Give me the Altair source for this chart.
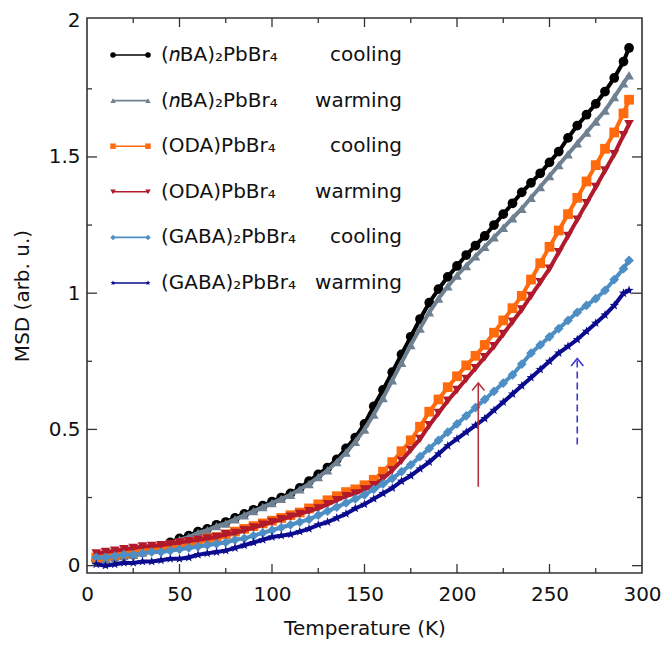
import altair as alt
import pandas as pd

FONT = "DejaVu Sans"

# Temperature grid (K)
T = [5, 10, 15, 20, 25, 30, 35, 40, 45, 50,
     55, 60, 65, 70, 75, 80, 85, 90, 95, 100,
     105, 110, 115, 120, 125, 130, 135, 140, 145, 150,
     155, 160, 165, 170, 175, 180, 185, 190, 195, 200,
     205, 210, 215, 220, 225, 230, 235, 240, 245, 250,
     255, 260, 265, 270, 275, 280, 285, 290, 293]

nba_cool = [0.02, 0.025, 0.03, 0.035, 0.04, 0.05, 0.06, 0.07, 0.085, 0.10,
            0.11, 0.125, 0.135, 0.15, 0.16, 0.175, 0.19, 0.205, 0.22, 0.235,
            0.25, 0.265, 0.285, 0.31, 0.335, 0.36, 0.39, 0.43, 0.47, 0.52,
            0.585, 0.645, 0.71, 0.775, 0.84, 0.905, 0.965, 1.015, 1.06, 1.10,
            1.14, 1.175, 1.21, 1.25, 1.29, 1.33, 1.37, 1.405, 1.44, 1.48,
            1.52, 1.57, 1.615, 1.655, 1.695, 1.74, 1.79, 1.85, 1.90]

nba_warm = [0.02, 0.025, 0.03, 0.035, 0.04, 0.048, 0.058, 0.068, 0.08, 0.095,
            0.105, 0.12, 0.13, 0.145, 0.155, 0.17, 0.185, 0.20, 0.215, 0.23,
            0.245, 0.26, 0.28, 0.30, 0.325, 0.35, 0.38, 0.415, 0.455, 0.50,
            0.555, 0.615, 0.68, 0.745, 0.81, 0.87, 0.93, 0.98, 1.025, 1.065,
            1.10, 1.135, 1.17, 1.205, 1.24, 1.275, 1.31, 1.35, 1.39, 1.43,
            1.47, 1.51, 1.55, 1.59, 1.63, 1.67, 1.72, 1.77, 1.80]

oda_cool = [0.03, 0.035, 0.04, 0.045, 0.05, 0.055, 0.06, 0.065, 0.07, 0.08,
            0.085, 0.09, 0.10, 0.105, 0.115, 0.125, 0.135, 0.145, 0.155, 0.165,
            0.175, 0.185, 0.195, 0.21, 0.225, 0.24, 0.255, 0.27, 0.28, 0.295,
            0.315, 0.345, 0.38, 0.42, 0.46, 0.51, 0.565, 0.61, 0.655, 0.695,
            0.735, 0.77, 0.81, 0.855, 0.90, 0.945, 0.99, 1.05, 1.11, 1.17,
            1.23, 1.29, 1.35, 1.41, 1.47, 1.53, 1.59, 1.66, 1.71]

oda_warm = [0.045, 0.05, 0.055, 0.06, 0.065, 0.07, 0.072, 0.075, 0.08, 0.085,
            0.09, 0.095, 0.10, 0.105, 0.115, 0.12, 0.13, 0.14, 0.15, 0.16,
            0.17, 0.18, 0.19, 0.20, 0.21, 0.225, 0.24, 0.255, 0.265, 0.28,
            0.295, 0.32, 0.35, 0.385, 0.425, 0.465, 0.515, 0.56, 0.605, 0.645,
            0.685, 0.725, 0.765, 0.805, 0.85, 0.895, 0.94, 0.99, 1.04, 1.09,
            1.15, 1.21, 1.27, 1.33, 1.39, 1.45, 1.51, 1.58, 1.62]

gaba_cool = [0.03, 0.03, 0.035, 0.04, 0.04, 0.045, 0.05, 0.05, 0.055, 0.06,
             0.065, 0.07, 0.075, 0.08, 0.085, 0.095, 0.10, 0.11, 0.12, 0.13,
             0.14, 0.15, 0.16, 0.17, 0.185, 0.20, 0.215, 0.23, 0.245, 0.26,
             0.28, 0.30, 0.32, 0.345, 0.37, 0.40, 0.43, 0.46, 0.49, 0.52,
             0.55, 0.58, 0.61, 0.64, 0.67, 0.70, 0.74, 0.78, 0.81, 0.84,
             0.87, 0.90, 0.93, 0.955, 0.98, 1.01, 1.05, 1.09, 1.12]

gaba_warm = [0.005, 0.0, 0.005, 0.01, 0.01, 0.015, 0.015, 0.02, 0.025, 0.025,
             0.03, 0.04, 0.045, 0.05, 0.055, 0.065, 0.075, 0.085, 0.095, 0.105,
             0.11, 0.115, 0.125, 0.135, 0.15, 0.16, 0.175, 0.19, 0.21, 0.225,
             0.245, 0.265, 0.285, 0.31, 0.33, 0.355, 0.38, 0.41, 0.44, 0.465,
             0.49, 0.515, 0.54, 0.57, 0.60, 0.63, 0.66, 0.69, 0.72, 0.75,
             0.78, 0.805, 0.83, 0.86, 0.89, 0.92, 0.955, 1.00, 1.01]

series_values = [nba_cool, nba_warm, oda_cool, oda_warm, gaba_cool, gaba_warm]
compounds = ["(\U0001D45BBA)\u2082PbBr\u2084", "(\U0001D45BBA)\u2082PbBr\u2084",
             "(ODA)PbBr\u2084", "(ODA)PbBr\u2084",
             "(GABA)\u2082PbBr\u2084", "(GABA)\u2082PbBr\u2084"]
status = ["cooling", "warming", "cooling", "warming", "cooling", "warming"]
keys = ["s0", "s1", "s2", "s3", "s4", "s5"]
colors = ["#000000", "#6f8191", "#ff6a0d", "#b11a2c", "#4d8ec4", "#0b0b8f"]
STAR = ("M0,-1L0.24,-0.33L0.95,-0.31L0.38,0.12L0.59,0.81L0,0.4"
        "L-0.59,0.81L-0.38,0.12L-0.95,-0.31L-0.24,-0.33Z")
shapes = ["circle", "triangle-up", "square", "triangle-down", "diamond", STAR]

# axis ticks
x_major = [50, 100, 150, 200, 250]
x_minor = [25, 75, 125, 175, 225, 275]
y_major = [0, 0.5, 1, 1.5]
y_minor = [0.25, 0.75, 1.25, 1.75]
x_labels = [0, 50, 100, 150, 200, 250, 300]
y_labels = [0, 0.5, 1, 1.5, 2]

# annotation arrows
arrow_T = [211.5, 265]
arrow_lo = [0.29, 0.445]
arrow_hi = [0.67, 0.76]
arrow_col = ["#b5323e", "#3b3bd0"]

W, H = 555, 555
xs = alt.Scale(domain=[0, 300], nice=False, zero=False, padding=0)
ys = alt.Scale(domain=[-0.027, 2.01], nice=False, zero=False, padding=0)
xaxis = alt.Axis(values=x_labels, title="Temperature (K)", labelPadding=11,
                 titlePadding=14, format="d", labelFlush=False)
yaxis = alt.Axis(values=y_labels, title="MSD (arb. u.)", format="~g",
                 labelPadding=7, titlePadding=16, labelFlush=False)

layers = []
for vals, c, s in zip(series_values, colors, shapes):
    df = pd.DataFrame({"T": T, "MSD": vals})
    base = alt.Chart(df).encode(
        x=alt.X("T:Q", scale=xs, axis=xaxis),
        y=alt.Y("MSD:Q", scale=ys, axis=yaxis),
    )
    layers.append(base.mark_line(color=c, strokeWidth=4))
    layers.append(base.mark_point(shape=s, filled=True, size=95, color=c, opacity=1))

TICK_C = "#333333"
xmaj = pd.DataFrame({"v": x_major})
xmin = pd.DataFrame({"v": x_minor})
ymaj = pd.DataFrame({"v": y_major})
ymin = pd.DataFrame({"v": y_minor})
for d, L in [(xmaj, 9), (xmin, 5)]:
    layers.append(alt.Chart(d).mark_rule(color=TICK_C, strokeWidth=1.3).encode(
        x=alt.X("v:Q", scale=xs), y=alt.value(H), y2=alt.value(H - L)))
    layers.append(alt.Chart(d).mark_rule(color=TICK_C, strokeWidth=1.3).encode(
        x=alt.X("v:Q", scale=xs), y=alt.value(0), y2=alt.value(L)))
for d, L in [(ymaj, 10), (ymin, 5)]:
    layers.append(alt.Chart(d).mark_rule(color=TICK_C, strokeWidth=1.3).encode(
        y=alt.Y("v:Q", scale=ys), x=alt.value(0), x2=alt.value(L)))
    layers.append(alt.Chart(d).mark_rule(color=TICK_C, strokeWidth=1.3).encode(
        y=alt.Y("v:Q", scale=ys), x=alt.value(W), x2=alt.value(W - L)))

# arrows
adf = pd.DataFrame({"T": arrow_T, "lo": arrow_lo, "hi": arrow_hi, "c": arrow_col})
for i in range(2):
    d = adf.iloc[[i]]
    dash = [1, 0] if i == 0 else [7, 4]
    layers.append(alt.Chart(d).mark_rule(color=arrow_col[i], strokeWidth=1.6,
                                         strokeDash=dash).encode(
        x=alt.X("T:Q", scale=xs), y=alt.Y("lo:Q", scale=ys), y2="hi:Q"))
    layers.append(alt.Chart(d).mark_point(shape="M-1,1.2L0,0L1,1.2", filled=False,
                                          size=150, color=arrow_col[i], strokeWidth=1.6,
                                          opacity=1).encode(
        x=alt.X("T:Q", scale=xs), y=alt.Y("hi:Q", scale=ys)))

main = alt.layer(*layers)

# legend
ldf = pd.DataFrame({"idx": list(range(6)), "key": keys, "name": compounds, "status": status})
lys = alt.Scale(domain=[0, 5], range=[37, 265])
cscale = alt.Scale(domain=keys, range=colors)
sscale = alt.Scale(domain=keys, range=shapes)
lbase = alt.Chart(ldf).encode(y=alt.Y("idx:Q", scale=lys, axis=None))
leg_line = lbase.mark_rule(strokeWidth=1.6).encode(
    x=alt.value(26), x2=alt.value(61),
    color=alt.Color("key:N", scale=cscale, legend=None))
leg_p1 = lbase.mark_point(filled=True, size=30, opacity=1).encode(
    x=alt.value(26), color=alt.Color("key:N", scale=cscale, legend=None),
    shape=alt.Shape("key:N", scale=sscale, legend=None))
leg_p2 = lbase.mark_point(filled=True, size=30, opacity=1).encode(
    x=alt.value(61), color=alt.Color("key:N", scale=cscale, legend=None),
    shape=alt.Shape("key:N", scale=sscale, legend=None))
leg_name = lbase.mark_text(align="left", baseline="middle", font=FONT, fontSize=20,
                           color="#111111").encode(x=alt.value(74), text="name:N")
leg_stat = lbase.mark_text(align="right", baseline="middle", font=FONT, fontSize=20,
                           color="#111111").encode(x=alt.value(315), text="status:N")
legend = alt.layer(leg_line, leg_p1, leg_p2, leg_name, leg_stat)

chart = alt.layer(main, legend).resolve_scale(
    y="independent", color="independent", shape="independent"
).properties(
    width=W, height=H,
    autosize=alt.AutoSizeParams(type="none"),
    padding={"left": 79, "top": 10, "right": 20, "bottom": 66},
    background="white",
).configure_view(
    stroke="#333333", strokeWidth=1.6
).configure_axis(
    labelFont=FONT, titleFont=FONT, labelFontSize=20, titleFontSize=20,
    labelColor="#111111", titleColor="#111111", titleFontWeight="normal",
    ticks=False, domain=False, grid=False
)

chart.save("out.html", embed_options={"renderer": "svg", "actions": False})
